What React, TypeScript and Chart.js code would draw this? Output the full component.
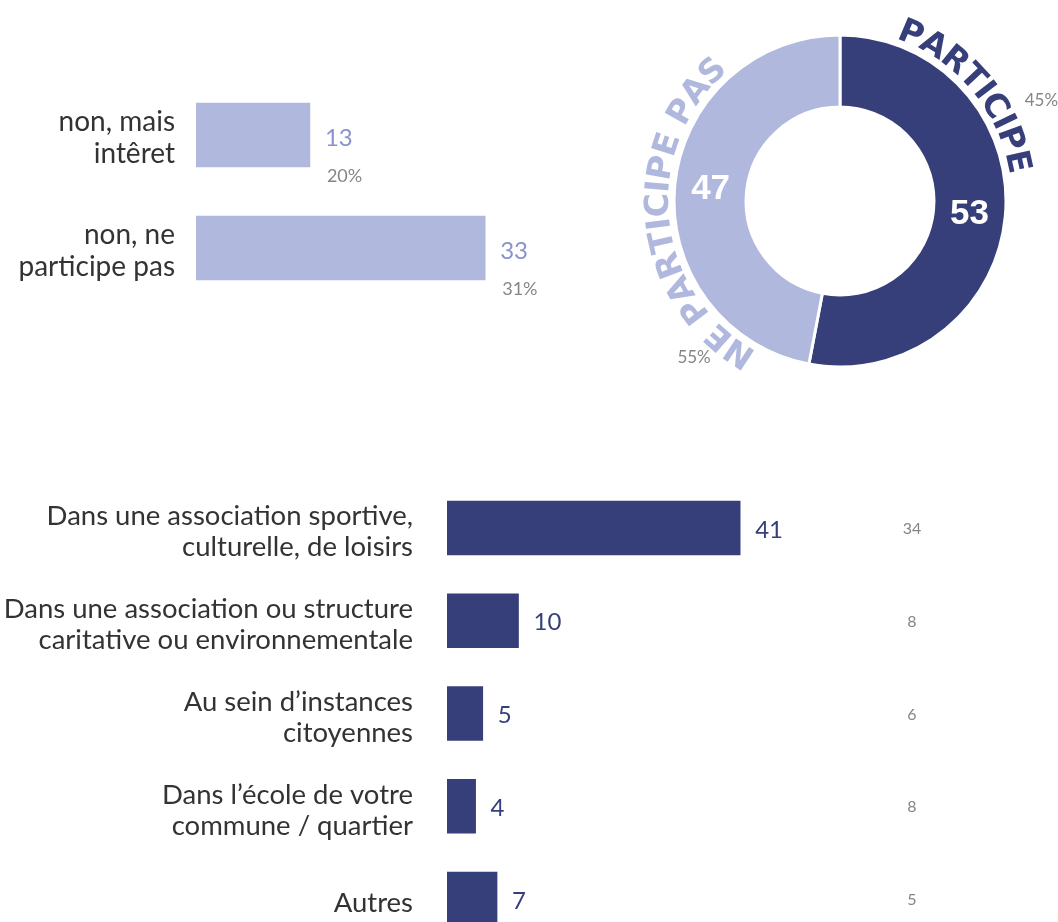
import React, { useEffect, useRef } from "react";
import { Chart, registerables } from "chart.js";

Chart.register(...registerables);

// ---------- DATA ----------
const interestLabels: string[][] = [["non, mais", "intêret"], ["non, ne", "participe pas"]];
const interestValues: number[] = [13, 33];
const interestPercents: string[] = ["20%", "31%"];

const donutLabels: string[] = ["PARTICIPE", "NE PARTICIPE PAS"];
const donutValues: number[] = [53, 47];
const donutPercents: string[] = ["45%", "55%"];

const placeLabels: string[][] = [
  ["Dans une association sportive,", "culturelle, de loisirs"],
  ["Dans une association ou structure", "caritative ou environnementale"],
  ["Au sein d\u2019instances", "citoyennes"],
  ["Dans l\u2019école de votre", "commune / quartier"],
  ["Autres"],
];
const placeValues: number[] = [41, 10, 5, 4, 7];
const placeReference: number[] = [34, 8, 6, 8, 5];

// ---------- STYLE ----------
const NAVY = "#373f7b";
const LIGHT = "#b0b8de";
const LIGHT_TEXT = "#8a93cc";
const GREY = "#858585";
const TEXT = "#333333";
const SANS = "Lato, 'Open Sans', sans-serif";
const BOLD = "'Liberation Sans', Arial, sans-serif";
const HEAVY = "'DejaVu Sans', 'Liberation Sans', sans-serif";

function useChart(build: (c: HTMLCanvasElement) => Chart) {
  const ref = useRef<HTMLCanvasElement | null>(null);
  useEffect(() => {
    if (!ref.current) return;
    const chart = build(ref.current);
    return () => chart.destroy();
  }, []);
  return ref;
}

const fixAxis = (width: number) => (s: any) => {
  s.width = width;
  s.paddingTop = 0;
  s.paddingBottom = 0;
};

// ---------- TOP-LEFT BARS ----------
function InterestBars() {
  const ref = useChart((canvas) =>
    new Chart(canvas, {
      type: "bar",
      data: {
        labels: interestLabels as any,
        datasets: [{ data: interestValues, backgroundColor: LIGHT, barThickness: 64 }],
      },
      options: {
        indexAxis: "y",
        animation: false,
        responsive: false,
        layout: { padding: { top: 18.5, bottom: 15.5, left: 0, right: 0 } },
        plugins: { legend: { display: false }, tooltip: { enabled: false } },
        scales: {
          x: { display: false, min: 0, max: 46.1 },
          y: {
            grid: { display: false, drawTicks: false },
            border: { display: false },
            ticks: {
              color: TEXT,
              padding: 21,
              labelOffset: 3,
              font: { family: SANS, size: 28, lineHeight: 1.15 },
            },
            afterFit: fixAxis(196),
          },
        },
      },
      plugins: [
        {
          id: "interestValues",
          afterDatasetsDraw(chart: any) {
            const ctx = chart.ctx;
            const meta = chart.getDatasetMeta(0);
            ctx.save();
            meta.data.forEach((bar: any, i: number) => {
              ctx.textAlign = "left";
              ctx.textBaseline = "middle";
              ctx.fillStyle = LIGHT_TEXT;
              ctx.font = `400 24px ${SANS}`;
              ctx.fillText(String(interestValues[i]), bar.x + 15, bar.y + 3);
              ctx.fillStyle = GREY;
              ctx.font = `400 18px ${SANS}`;
              ctx.fillText(interestPercents[i], bar.x + 17, bar.y + 41);
            });
            ctx.restore();
          },
        },
      ],
    } as any)
  );
  return (
    <canvas
      ref={ref}
      width={600}
      height={260}
      style={{ position: "absolute", left: 0, top: 60, width: 600, height: 260 }}
    />
  );
}

// ---------- DONUT ----------
function drawArcText(
  ctx: CanvasRenderingContext2D,
  text: string,
  cx: number,
  cy: number,
  R: number,
  firstDeg: number,
  lastDeg: number
) {
  const chars = Array.from(text);
  const widths = chars.map((ch) => ctx.measureText(ch).width);
  const n = chars.length;
  // arc length between centres of the first and last characters
  const span = ((lastDeg - firstDeg) * Math.PI * R) / 180;
  const inner = widths.reduce((a, b) => a + b, 0) - widths[0] / 2 - widths[n - 1] / 2;
  const spacing = (span - inner) / (n - 1);
  let a = (firstDeg * Math.PI) / 180;
  chars.forEach((ch, i) => {
    ctx.save();
    ctx.translate(cx + R * Math.sin(a), cy - R * Math.cos(a));
    ctx.rotate(a);
    ctx.textAlign = "center";
    ctx.textBaseline = "alphabetic";
    ctx.fillText(ch, 0, 0);
    ctx.restore();
    if (i < n - 1) a += (widths[i] / 2 + spacing + widths[i + 1] / 2) / R;
  });
}

function Donut() {
  const ref = useChart((canvas) =>
    new Chart(canvas, {
      type: "doughnut",
      data: {
        labels: donutLabels,
        datasets: [
          {
            data: donutValues,
            backgroundColor: [NAVY, LIGHT],
            borderColor: "#ffffff",
            borderWidth: 3,
          },
        ],
      },
      options: {
        animation: false,
        responsive: false,
        radius: 166,
        cutout: "56.6%",
        layout: { padding: 0 },
        plugins: { legend: { display: false }, tooltip: { enabled: false } },
      },
      plugins: [
        {
          id: "donutText",
          afterDatasetsDraw(chart: any) {
            const ctx = chart.ctx;
            const meta = chart.getDatasetMeta(0);
            const first = meta.data[0];
            const cx = first.x;
            const cy = first.y;
            ctx.save();
            // values inside the ring
            meta.data.forEach((arc: any, i: number) => {
              const p = arc.tooltipPosition();
              ctx.fillStyle = "#ffffff";
              ctx.font = `700 35px ${BOLD}`;
              ctx.textAlign = "center";
              ctx.textBaseline = "middle";
              ctx.fillText(String(donutValues[i]), p.x, p.y + 1);
            });
            // curved labels
            ctx.font = `700 33px ${HEAVY}`;
            const textArcs = [
              [23, 77.5],
              [213.5, 315.5],
            ];
            const textColors = [NAVY, LIGHT];
            donutLabels.forEach((lab, i) => {
              ctx.fillStyle = textColors[i];
              drawArcText(ctx, lab, cx, cy, 172, textArcs[i][0], textArcs[i][1]);
            });
            // percents
            ctx.fillStyle = GREY;
            ctx.font = `400 17px ${SANS}`;
            ctx.textAlign = "center";
            ctx.textBaseline = "middle";
            const pctPos = [
              [63.5, 225],
              [223, 214],
            ];
            donutPercents.forEach((t, i) => {
              const a = (pctPos[i][0] * Math.PI) / 180;
              const r = pctPos[i][1];
              ctx.fillText(t, cx + r * Math.sin(a), cy - r * Math.cos(a));
            });
            ctx.restore();
          },
        },
      ],
    } as any)
  );
  return (
    <canvas
      ref={ref}
      width={436}
      height={402}
      style={{ position: "absolute", left: 622, top: 0, width: 436, height: 402 }}
    />
  );
}

// ---------- BOTTOM BARS ----------
function PlaceBars() {
  const ref = useChart((canvas) =>
    new Chart(canvas, {
      type: "bar",
      data: {
        labels: placeLabels as any,
        datasets: [{ data: placeValues, backgroundColor: NAVY, barThickness: 54 }],
      },
      options: {
        indexAxis: "y",
        animation: false,
        responsive: false,
        layout: { padding: { top: 11.6, bottom: 4.6, left: 0, right: 0 } },
        plugins: { legend: { display: false }, tooltip: { enabled: false } },
        scales: {
          x: { display: false, min: 0, max: 85.45 },
          y: {
            grid: { display: false, drawTicks: false },
            border: { display: false },
            ticks: {
              color: TEXT,
              padding: 34,
              labelOffset: 4,
              font: { family: SANS, size: 27.5, lineHeight: 1.13 },
            },
            afterFit: fixAxis(447),
          },
        },
      },
      plugins: [
        {
          id: "placeValues",
          afterDatasetsDraw(chart: any) {
            const ctx = chart.ctx;
            const meta = chart.getDatasetMeta(0);
            const area = chart.chartArea;
            ctx.save();
            meta.data.forEach((bar: any, i: number) => {
              ctx.textAlign = "left";
              ctx.textBaseline = "middle";
              ctx.fillStyle = NAVY;
              ctx.font = `400 24px ${SANS}`;
              ctx.fillText(String(placeValues[i]), bar.x + 15, bar.y + 2);
              ctx.textAlign = "center";
              ctx.fillStyle = GREY;
              ctx.font = `400 16px ${SANS}`;
              ctx.fillText(String(placeReference[i]), area.left + 465, bar.y + 1);
            });
            ctx.restore();
          },
        },
      ],
    } as any)
  );
  return (
    <canvas
      ref={ref}
      width={1058}
      height={480}
      style={{ position: "absolute", left: 0, top: 470, width: 1058, height: 480 }}
    />
  );
}

export default function App() {
  return (
    <div
      style={{
        position: "fixed",
        left: 0,
        top: 0,
        width: 1058,
        height: 922,
        overflow: "hidden",
        background: "#ffffff",
      }}
    >
      <InterestBars />
      <Donut />
      <PlaceBars />
    </div>
  );
}
